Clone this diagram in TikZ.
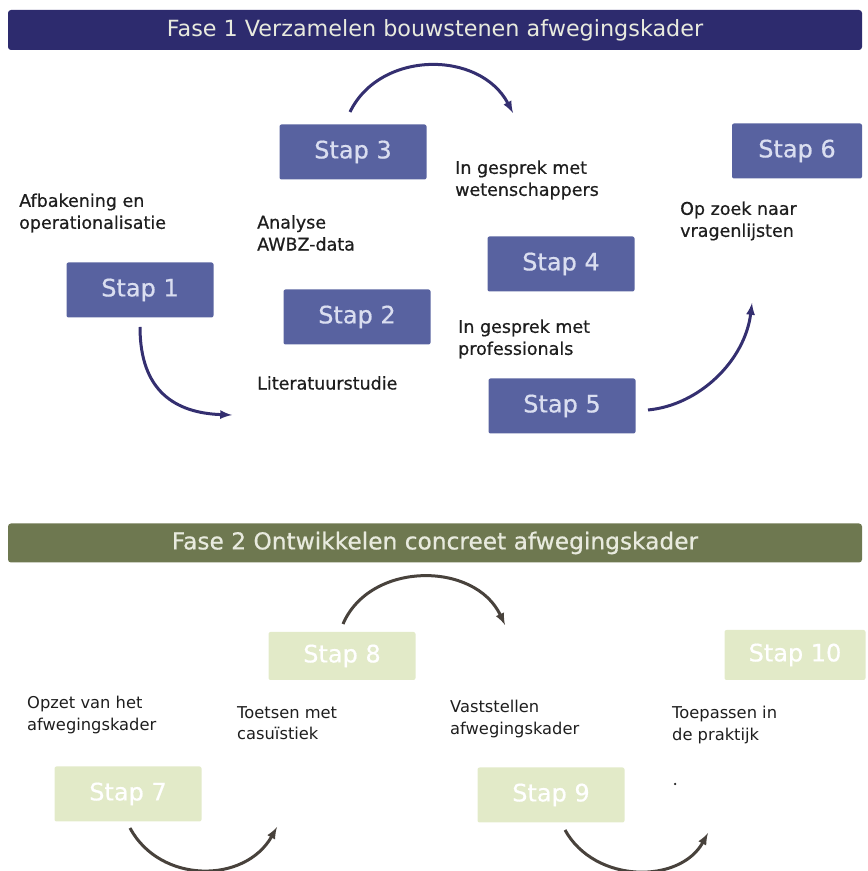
\documentclass[tikz,border=0pt]{standalone}
\usepackage{fontspec}
\setmainfont{DejaVu Sans}
\newfontfamily\zwaarfont[FakeBold=0.6]{DejaVu Sans}
\usepackage{tikz}
\usetikzlibrary{arrows}
\usepackage{xcolor}
\definecolor{faseblauw}{RGB}{45,43,110}
\definecolor{stapblauw}{RGB}{88,98,160}
\definecolor{staptekst}{RGB}{218,222,240}
\definecolor{pijlblauw}{RGB}{52,47,112}
\definecolor{fasegroen}{RGB}{110,120,80}
\definecolor{fasetekst}{RGB}{232,234,222}
\definecolor{stapgroen}{RGB}{226,234,200}
\definecolor{pijlgrijs}{RGB}{72,66,60}
\definecolor{labeltekst}{RGB}{30,30,30}

\begin{document}
\begin{tikzpicture}[x=1pt,y=1pt]
	 \tikzstyle{fase}=[rectangle,rounded corners=3pt,minimum width=854pt,minimum height=40pt,inner sep=0pt,text=fasetekst]
	 \tikzstyle{stap}=[rectangle,rounded corners=2pt,minimum width=147pt,minimum height=55pt,inner sep=0pt,fill=stapblauw,text=staptekst,font=\zwaarfont\fontsize{24}{28}\selectfont]
	 \tikzstyle{stap groen}=[stap,fill=stapgroen,text=white]
	 \tikzstyle{uitleg}=[align=left,anchor=west,inner sep=0pt,text=labeltekst,font=\zwaarfont\fontsize{17.5}{22}\selectfont]
	 \tikzstyle{uitleg groen}=[uitleg,font=\normalfont\fontsize{16.3}{21.5}\selectfont]
	 \tikzstyle{pijl}=[draw,line width=3pt,-latex,pijlblauw]
	 \tikzstyle{pijl grijs}=[pijl,pijlgrijs]

	 \useasboundingbox (0,0) rectangle (868,871);

	 % fase 1
	 \node[fase,fill=faseblauw,font=\fontsize{22.3}{26}\selectfont] (fase1) at (435,841) {Fase 1 Verzamelen bouwstenen afwegingskader};

	 \node[stap] (s1) at (140,581) {Stap 1};
	 \node[stap] (s2) at (357,554) {Stap 2};
	 \node[stap] (s3) at (353,719) {Stap 3};
	 \node[stap] (s4) at (561,607) {Stap 4};
	 \node[stap] (s5) at (562,465) {Stap 5};
	 \node[stap,minimum width=130pt] (s6) at (797,720) {Stap 6};

	 \node[uitleg] (u1) at (19,658) {Afbakening en\\operationalisatie};
	 \node[uitleg] (u3) at (257,638) {Analyse\\AWBZ-data};
	 \node[uitleg] (u2) at (257,488) {Literatuurstudie};
	 \node[uitleg] (u4) at (455,691) {In gesprek met\\wetenschappers};
	 \node[uitleg] (u6) at (680,650) {Op zoek naar\\vragenlijsten};
	 \node[uitleg] (u5) at (458,532) {In gesprek met\\professionals};

	 \coordinate (a1) at (140,544);
	 \coordinate (b1) at (232,456);
	 \coordinate (a3) at (350,759);
	 \coordinate (b3) at (513,758);
	 \coordinate (a5) at (648,461);
	 \coordinate (b5) at (752,568);

	 \draw[pijl] (a1) .. controls (140,480) and (175,458) .. (b1);
	 \draw[pijl] (a3) .. controls (380,821) and (480,821) .. (b3);
	 \draw[pijl] (a5) .. controls (700,466) and (745,511) .. (b5);

	 % fase 2
	 \node[fase,fill=fasegroen,font=\zwaarfont\fontsize{23.3}{27}\selectfont,minimum height=39pt] (fase2) at (435,328) {Fase 2 Ontwikkelen concreet afwegingskader};

	 \node[stap groen] (s7) at (128,77) {Stap 7};
	 \node[stap groen,minimum height=48pt] (s8) at (342,215) {Stap 8};
	 \node[stap groen] (s9) at (551,76) {Stap 9};
	 \node[stap groen,minimum width=141pt,minimum height=50pt] (s10) at (795,216) {Stap 10};

	 \node[uitleg groen] (u7) at (27,156) {Opzet van het\\afwegingskader};
	 \node[uitleg groen] (u8) at (237,148) {Toetsen met\\casuïstiek};
	 \node[uitleg groen] (u9) at (450,152) {Vaststellen\\afwegingskader};
	 \node[uitleg groen] (u10) at (672,146) {Toepassen in\\de praktijk};
	 \node[circle,fill=labeltekst,inner sep=0pt,minimum size=2.5pt] (punt) at (675,87) {};

	 \coordinate (a7) at (130,43);
	 \coordinate (b7) at (277,44);
	 \coordinate (a8) at (343,247);
	 \coordinate (b8) at (505,246);
	 \coordinate (a9) at (565,41);
	 \coordinate (b9) at (708,38);

	 \draw[pijl grijs] (a7) .. controls (160,-13) and (245,-13) .. (b7);
	 \draw[pijl grijs] (a8) .. controls (370,310) and (475,310) .. (b8);
	 \draw[pijl grijs] (a9) .. controls (595,-13) and (680,-13) .. (b9);
\end{tikzpicture}
\end{document}
